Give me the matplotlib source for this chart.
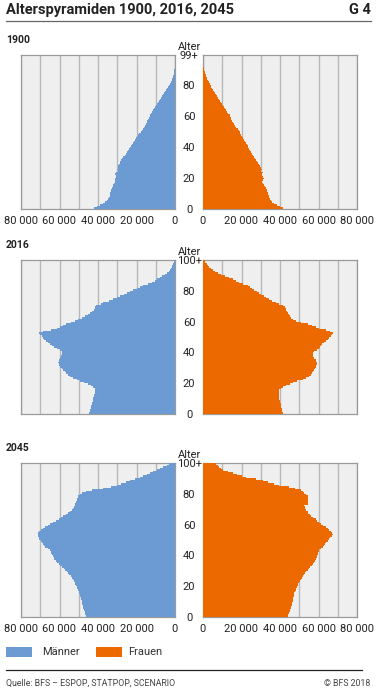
import numpy as np
import matplotlib.pyplot as plt
from matplotlib.patches import Rectangle

plt.rcParams['font.family'] = ['Roboto', 'DejaVu Sans']

# Bevölkerung nach Alter, in Tausend (Alter 0 .. 99 bzw. 0 .. 100+)
maenner_1900 = [
    42, 40.5, 39, 37.5, 36.5, 35.5, 35, 34.5, 34, 34,
    33.7, 33.5, 33, 32.5, 32, 32, 31.5, 31, 31, 31,
    30.5, 30.8, 31, 30.5, 29.5, 30, 29.8, 29.5, 29, 28.8,
    28.5, 28, 27.5, 26.8, 26, 25.2, 24.8, 24.3, 23.8, 23.2,
    22.6, 22.1, 21.6, 21.1, 20.6, 20.1, 19.6, 19, 18.5, 17.9,
    17.3, 16.8, 16.2, 15.7, 15.2, 14.7, 14.3, 13.9, 13.5, 13.2,
    12.9, 12.4, 11.9, 11.4, 10.9, 10.4, 9.9, 9.4, 8.9, 8.3,
    7.8, 7.3, 6.8, 6.3, 5.8, 5.2, 4.7, 4.2, 3.7, 3.1,
    2.6, 2.2, 1.8, 1.5, 1.2, 0.9, 0.7, 0.5, 0.4, 0.3,
    0.2, 0.15, 0.1, 0.08, 0.05, 0.03, 0.02, 0.01, 0.01, 0.01,
]
frauen_1900 = [
    41.7, 40, 38.5, 37, 36, 35.2, 34.8, 34.4, 34.2, 34,
    34, 33.5, 33, 32.5, 32, 31.5, 31, 30.5, 31, 31.5,
    31, 30.5, 30.8, 31.2, 30, 30.5, 30, 29.5, 29, 28.5,
    28, 27.5, 27, 26.5, 26, 25.5, 25, 24.5, 24, 23.5,
    23.2, 22.8, 22.3, 21.8, 21.3, 20.8, 20.3, 19.8, 19.4, 19,
    18.6, 18, 17.4, 16.8, 16.2, 15.7, 15.2, 14.8, 14.4, 14.1,
    13.8, 13.2, 12.6, 12, 11.4, 10.9, 10.4, 9.9, 9.4, 8.8,
    8.3, 7.8, 7.3, 6.8, 6.3, 5.8, 5.3, 4.8, 4.3, 3.9,
    3.5, 3.1, 2.7, 2.3, 1.9, 1.6, 1.3, 1.0, 0.8, 0.5,
    0.3, 0.2, 0.15, 0.1, 0.06, 0.04, 0.02, 0.01, 0.01, 0.01,
]
maenner_2016 = [
    44.5, 44.2, 44, 43.8, 43.6, 43.5, 43.2, 43, 42.7, 42.5,
    42.4, 42.2, 42, 41.5, 41.3, 41.5, 41.8, 42.5, 43.5, 45,
    47.5, 49.5, 51, 53, 54.5, 55.5, 56.5, 57.3, 58, 58.8,
    59.7, 60.2, 60.5, 60.6, 60.5, 60.3, 59.8, 59.2, 58.8, 58.6,
    58.8, 59.8, 61.4, 62.6, 63.8, 65, 66, 67, 67.8, 68.5,
    69.2, 70.2, 70.5, 68.5, 64.5, 61.4, 59.5, 58, 56.5, 54,
    52, 50.5, 48.5, 46.7, 45.3, 44, 43.2, 42.3, 41.5, 41.5,
    40.8, 38.5, 37.2, 34.5, 32.3, 30.3, 28.5, 26.7, 25, 23.3,
    21.6, 19.8, 18.1, 16.4, 14.2, 12, 10.6, 9.2, 7.8, 6.5,
    5.2, 4.2, 3.3, 2.6, 2.1, 1.7, 1.3, 1, 0.7, 0.5,
    0.3,
]
frauen_2016 = [
    41.4, 41.2, 41, 40.8, 40.6, 40.5, 40.3, 40, 39.8, 39.7,
    39.6, 39.6, 39.5, 39.5, 39.6, 39.6, 40.5, 41.5, 43, 45,
    46.5, 49, 51.7, 53.5, 55, 56, 56.8, 57.3, 57.8, 58.2,
    58.6, 58.8, 59, 59, 58.8, 58.6, 57.8, 57, 57, 57.3,
    57.8, 59, 60.4, 61, 61.5, 62, 63, 64, 64.7, 65.5,
    66.4, 67, 67.3, 66, 63.8, 60.4, 58.5, 56.5, 54.3, 51,
    48.3, 47, 45.7, 45, 44.5, 44, 43.6, 43.3, 43, 42.5,
    41.4, 39.5, 37.9, 36, 34.5, 32.7, 31.5, 30.3, 29.2, 27.9,
    26.6, 25.5, 24.3, 23.2, 21, 18.9, 17.2, 15.5, 13.7, 11.5,
    9.3, 7.8, 6.4, 5, 4.1, 3.3, 2.6, 2, 1.2, 1,
    1.2,
]
maenner_2045 = [
    46.2, 46.5, 46.8, 47, 47.3, 47.6, 47.8, 48, 48.1, 48.3,
    48.4, 48.6, 48.9, 49.2, 49.5, 49.8, 50.1, 50.4, 50.7, 51,
    51.4, 51.8, 52.2, 52.7, 53.1, 53.6, 54.2, 54.9, 55.6, 56.3,
    57, 57.9, 58.8, 59.7, 60.5, 61.4, 62, 62.6, 63.1, 63.6,
    64, 64.3, 64.6, 64.9, 66.2, 67.5, 68.1, 68.7, 69.2, 69.8,
    70.4, 70.8, 71.1, 71.4, 71, 70.4, 69.5, 68.5, 67.5, 66.2,
    64.9, 63.5, 62, 60.5, 59.2, 58, 56.8, 55.7, 54.5, 53.6,
    52.8, 52.5, 52.2, 51.9, 51.5, 51, 50.8, 50.5, 50.2, 49.3,
    48.4, 46, 43.2, 37.2, 33.5, 30.3, 28, 25.7, 23.4, 20.8,
    18.2, 16.5, 14.7, 13, 11.2, 9.5, 7.8, 6, 4.3, 3.2,
    2.5,
]
frauen_2045 = [
    43.9, 44.3, 44.7, 45, 45.4, 45.7, 45.9, 46.1, 46.3, 46.4,
    46.5, 46.7, 46.9, 47.1, 47.2, 47.4, 47.7, 48.1, 48.4, 48.8,
    49.1, 49.5, 50, 50.5, 50.9, 51.4, 52, 52.6, 53.1, 53.7,
    54.3, 55, 55.7, 56.4, 57.1, 57.8, 58.2, 58.6, 59, 59.3,
    59.5, 59.8, 60.1, 60.4, 61.3, 62.1, 62.7, 63.2, 63.8, 64.7,
    65.6, 66.2, 66.8, 67.3, 67, 66.4, 65.6, 64.7, 63.8, 62.5,
    61.2, 60.3, 59.4, 58.6, 57.3, 56, 55.4, 54.8, 54.3, 53.7,
    53.1, 52.8, 52.6, 54.3, 54.6, 54.8, 54.8, 54.6, 54.3, 53.5,
    52.6, 51.8, 50.9, 48, 44.8, 39.6, 37, 34, 31, 27.5,
    22.3, 20, 17.7, 15.4, 12.8, 10.2, 9.3, 8.5, 7.6, 7,
    6.7,
]

jahre = ['1900', '2016', '2045']
maenner = [maenner_1900, maenner_2016, maenner_2045]
frauen = [frauen_1900, frauen_2016, frauen_2045]
alter_ticks = [0, 20, 40, 60, 80]
x_ticks = [0, 20000, 40000, 60000, 80000]
x_labels = ['0', '20 000', '40 000', '60 000', '80 000']

BLAU = '#6b9bd2'
ORANGE = '#ec6900'
GRAU_BG = '#efefef'
GRID = '#b8b8b8'
TXT = '#222222'

W, H = 377, 693
fig = plt.figure(figsize=(W / 100, H / 100), dpi=100)
fig.patch.set_facecolor('white')


def fx(px):
    return px / W


def fy(py):
    return 1 - py / H


fig.text(fx(6), fy(10), 'Alterspyramiden 1900, 2016, 2045', fontsize=10.5,
         fontweight='bold', color=TXT, va='center', ha='left')
fig.text(fx(371), fy(10), 'G 4', fontsize=10.5, fontweight='bold',
         color=TXT, va='center', ha='right')
fig.add_artist(plt.Line2D([fx(6), fx(371)], [fy(21), fy(21)],
                          color='#666666', lw=0.9))

panel_top = [55, 260, 463]
label_y = [40, 245, 448]
ph = 154

for i in range(3):
    m = np.array(maenner[i]) * 1000
    f = np.array(frauen[i]) * 1000
    alter = np.arange(len(m))
    ymax = 99 if len(m) == 100 else 100
    top_lbl = '99+' if ymax == 99 else '100+'

    bottom = fy(panel_top[i] + ph)
    hgt = ph / H
    axl = fig.add_axes([fx(21), bottom, fx(154), hgt])
    axr = fig.add_axes([fx(203), bottom, fx(154), hgt])

    for ax, werte, farbe in [(axl, m, BLAU), (axr, f, ORANGE)]:
        ax.set_facecolor(GRAU_BG)
        ax.barh(alter, werte, height=1, align='edge', color=farbe,
                linewidth=0, zorder=3)
        ax.set_xlim(0, 80000)
        ax.set_ylim(0, ymax)
        ax.set_xticks(x_ticks)
        ax.set_xticks(np.arange(0, 80001, 10000), minor=True)
        ax.grid(axis='x', which='both', color=GRID, lw=1, zorder=0)
        ax.set_axisbelow(True)
        for s in ax.spines.values():
            s.set_color('#9a9a9a')
            s.set_linewidth(0.9)
        ax.tick_params(which='both', length=0)
        if i == 1:
            ax.set_xticklabels([])
        else:
            ax.set_xticklabels(x_labels, fontsize=8, color=TXT)
            ax.tick_params(axis='x', pad=5)

    axl.invert_xaxis()
    axl.set_yticks([])
    axr.set_yticks(alter_ticks + [ymax])
    axr.set_yticklabels([str(a) for a in alter_ticks] + [top_lbl],
                        fontsize=8, color=TXT)
    for t in axr.get_yticklabels():
        t.set_horizontalalignment('center')
    axr.tick_params(axis='y', pad=10)

    fig.text(fx(6), fy(label_y[i]), jahre[i], fontsize=7.5, fontweight='bold',
             color=TXT, va='center', ha='left')
    fig.text(fx(189), fy(panel_top[i] - 8), 'Alter', fontsize=8, color=TXT,
             va='center', ha='center')

# Legende
fig.add_artist(Rectangle((fx(6), fy(657)), fx(26), 10 / H,
                         transform=fig.transFigure, color=BLAU, lw=0))
fig.text(fx(42), fy(652), 'Männer', fontsize=8, color='#333333',
         va='center', ha='left')
fig.add_artist(Rectangle((fx(96), fy(657)), fx(26), 10 / H,
                         transform=fig.transFigure, color=ORANGE, lw=0))
fig.text(fx(128), fy(652), 'Frauen', fontsize=8, color='#333333',
         va='center', ha='left')

fig.add_artist(plt.Line2D([fx(6), fx(362)], [fy(670), fy(670)],
                          color='#222222', lw=0.9))
fig.text(fx(6), fy(683), 'Quelle: BFS – ESPOP, STATPOP, SCENARIO',
         fontsize=6.3, color='#444444', va='center', ha='left')
fig.text(fx(370), fy(683), '© BFS 2018', fontsize=6.3, color='#444444',
         va='center', ha='right')

fig.savefig('out.png', dpi=100)
